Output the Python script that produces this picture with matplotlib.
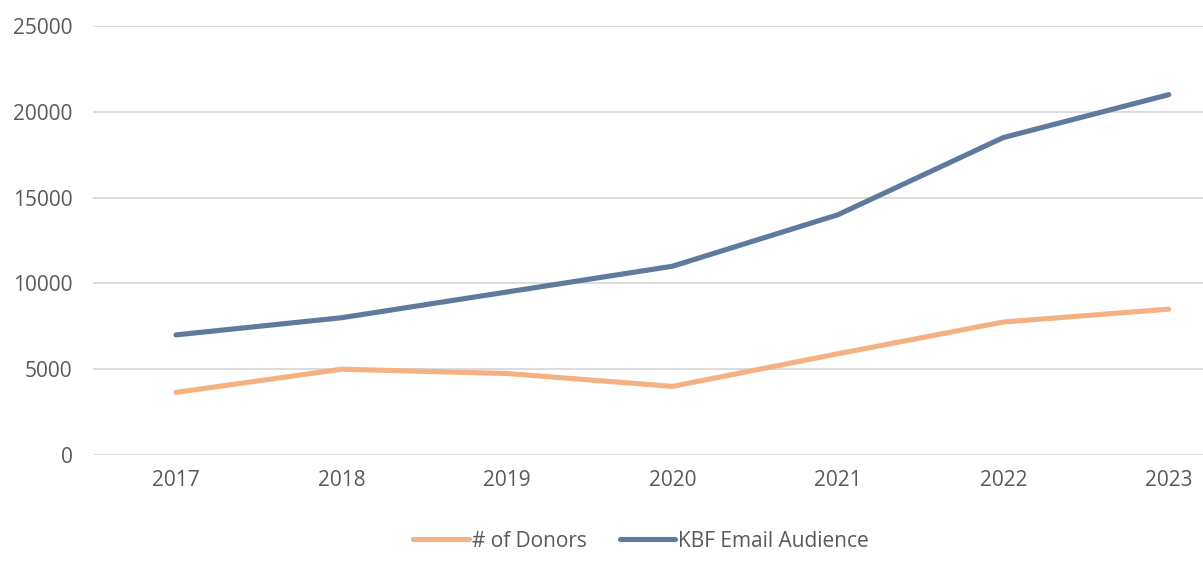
import matplotlib.pyplot as plt

plt.rcParams['font.family'] = ['Open Sans', 'DejaVu Sans']

years = ['2017', '2018', '2019', '2020', '2021', '2022', '2023']
donors = [3650, 5000, 4750, 4000, 5900, 7750, 8500]
email = [7000, 8000, 9500, 11000, 14000, 18500, 21000]

fig = plt.figure(figsize=(12.03, 5.63), dpi=100)
ax = fig.add_axes([0.0776, 0.1918, 0.9627, 0.762])

x = range(len(years))
ax.plot(x, donors, color='#F4B183', lw=3.7, solid_capstyle='round', label='# of Donors')
ax.plot(x, email, color='#5F7A9C', lw=3.7, solid_capstyle='round', label='KBF Email Audience')

ax.set_xlim(-0.5, len(years) - 0.5)
ax.set_ylim(0, 25000)
ax.set_yticks(range(0, 25001, 5000))
ax.set_xticks(list(x))
ax.set_xticklabels(years)
ax.grid(axis='y', color='#D9D9D9', lw=1.3)
ax.set_axisbelow(True)
for s in ax.spines.values():
    s.set_visible(False)
ax.tick_params(length=0, labelsize=15, colors='#595959', pad=11)
ax.tick_params(axis='y', pad=15)

leg = fig.legend(loc='center', bbox_to_anchor=(0.533, 0.039), ncol=2, frameon=False,
                 fontsize=15, handlelength=2.65, handletextpad=0.15, columnspacing=1.6)
for t in leg.get_texts():
    t.set_color('#595959')

fig.savefig('out.png', dpi=100)
